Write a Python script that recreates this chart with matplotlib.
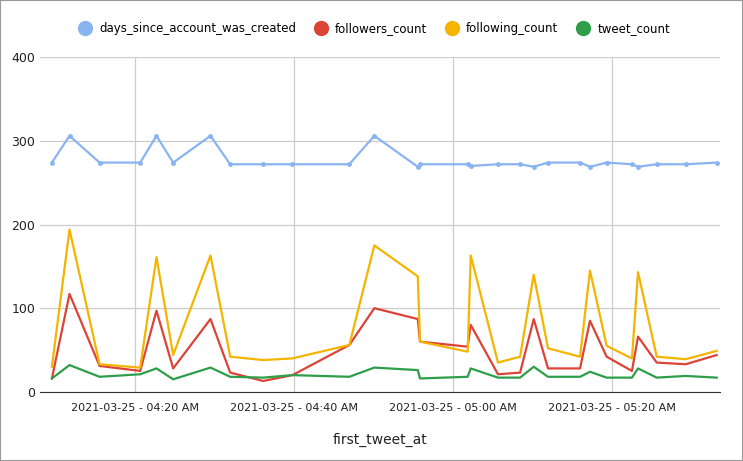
import matplotlib
matplotlib.use("Agg")
import matplotlib.pyplot as plt
import matplotlib.dates as mdates
from matplotlib.lines import Line2D
import pandas as pd

times = ["04:09:31", "04:11:44", "04:15:31", "04:20:38", "04:22:41", "04:24:47", "04:29:29",
         "04:31:58", "04:36:07", "04:39:48", "04:46:58", "04:50:07", "04:55:35", "04:55:52",
         "05:01:52", "05:02:15", "05:05:41", "05:08:28", "05:10:11", "05:11:59", "05:16:01",
         "05:17:16", "05:19:22", "05:22:33", "05:23:19", "05:25:40", "05:29:19", "05:33:13"]
days_since = [274, 306, 274, 274, 306, 274, 306, 272, 272, 272, 272, 306, 269, 272,
              272, 270, 272, 272, 269, 274, 274, 269, 274, 272, 269, 272, 272, 274]
followers = [16, 117, 31, 25, 97, 28, 87, 23, 13, 20, 56, 100, 87, 60,
             54, 80, 21, 23, 87, 28, 28, 85, 42, 25, 66, 35, 33, 44]
following = [30, 194, 33, 29, 161, 44, 163, 42, 38, 40, 56, 175, 138, 60,
             48, 163, 35, 42, 140, 52, 42, 145, 55, 40, 143, 42, 39, 49]
tweets = [16, 32, 18, 21, 28, 15, 29, 18, 17, 20, 18, 29, 26, 16,
          18, 28, 17, 17, 30, 18, 18, 24, 17, 17, 28, 17, 19, 17]

x = pd.to_datetime(["2021-03-25 " + t for t in times])

fig = plt.figure(figsize=(7.43, 4.61), dpi=100)
ax = fig.add_axes([0.054, 0.150, 0.915, 0.726])

series = [("days_since_account_was_created", days_since, "#8ab4f0"),
          ("followers_count", followers, "#db4437"),
          ("following_count", following, "#f4b400"),
          ("tweet_count", tweets, "#2e9e4a")]
for name, vals, col in series:
    if name.startswith("days"):
        ax.plot(x, vals, color=col, lw=1.6, marker="o", ms=2.5)
    else:
        ax.plot(x, vals, color=col, lw=1.6)

ax.set_ylim(0, 400)
ax.set_yticks([0, 100, 200, 300, 400])
ax.set_xlim(pd.Timestamp("2021-03-25 04:08:02"), pd.Timestamp("2021-03-25 05:33:38"))
ax.xaxis.set_major_locator(mdates.MinuteLocator(byminute=[0, 20, 40]))
ax.xaxis.set_major_formatter(mdates.DateFormatter("%Y-%m-%d - %I:%M %p"))
ax.grid(color="#cccccc", lw=0.9)
for s in ["top", "right", "left"]:
    ax.spines[s].set_visible(False)
ax.spines["bottom"].set_color("#333333")
ax.tick_params(length=0, labelsize=9, colors="#222222")
ax.tick_params(axis="x", labelsize=8, pad=8)
ax.set_xlabel("first_tweet_at", fontsize=10, labelpad=14, color="#222222")

handles = [Line2D([], [], ls="", marker="o", ms=10, color=c) for _, _, c in series]
fig.legend(handles, [n for n, _, _ in series], loc="upper center", bbox_to_anchor=(0.5, 0.975),
           ncol=4, frameon=False, fontsize=8.5, handletextpad=0.2, columnspacing=1.1)
fig.patches.append(plt.Rectangle((0, 0), 1, 1, transform=fig.transFigure, fill=False,
                                 edgecolor="#999999", lw=1.5))
fig.savefig("out.png", dpi=100)
